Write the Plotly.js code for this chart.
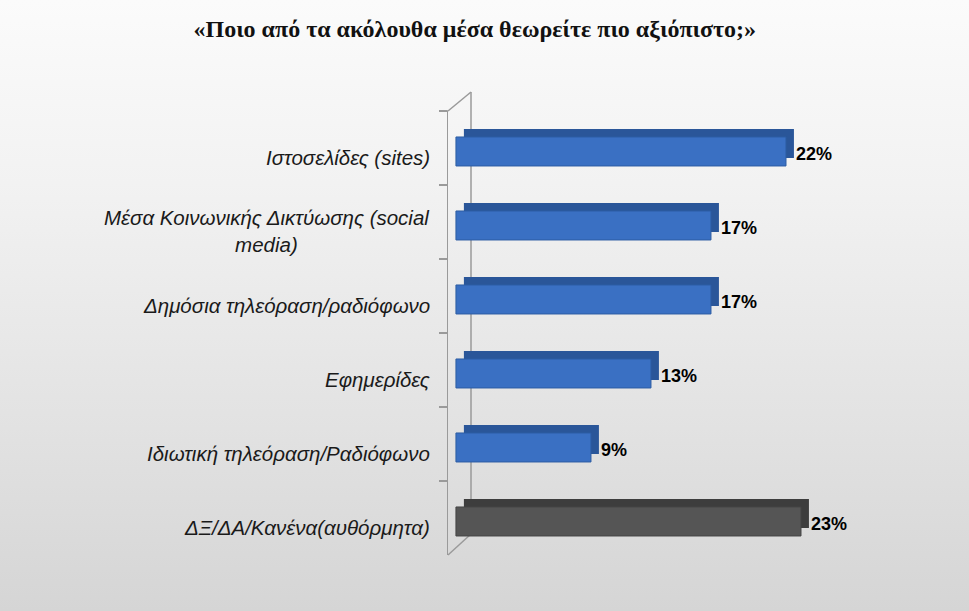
<!DOCTYPE html>
<html>
<head>
<meta charset="utf-8">
<script src="https://cdn.plot.ly/plotly-3.0.1.min.js"></script>
<style>
html,body{margin:0;padding:0;}
body{width:969px;height:611px;background:linear-gradient(to bottom,#fbfbfb 0%,#f2f2f2 30%,#e2e2e2 70%,#d5d5d5 100%);}
#chart{width:969px;height:611px;}
</style>
</head>
<body>
<div id="chart"></div>
<script>
// Data (top to bottom as shown)
var categories = [
  "Ιστοσελίδες (sites)",
  "Μέσα Κοινωνικής Δικτύωσης (social<br>media)",
  "Δημόσια τηλεόραση/ραδιόφωνο",
  "Εφημερίδες",
  "Ιδιωτική τηλεόραση/Ραδιόφωνο",
  "ΔΞ/ΔΑ/Κανένα(αυθόρμητα)"
];
var values = [22, 17, 17, 13, 9, 23];
var valueLabels = ["22%", "17%", "17%", "13%", "9%", "23%"];
var barColors = ["#3a70c3", "#3a70c3", "#3a70c3", "#3a70c3", "#3a70c3", "#555555"];
var depthColors = ["#2a5699", "#2a5699", "#2a5699", "#2a5699", "#2a5699", "#3d3d3d"];
var lineColors = ["#2d5da3", "#2d5da3", "#2d5da3", "#2d5da3", "#2d5da3", "#444444"];

var W = 969, H = 611;
var M = {l: 448, r: 63, t: 111, b: 56};
function px(x){ return (x - M.l) / (W - M.l - M.r); }
function py(y){ return 1 - (y - M.t) / (H - M.t - M.b); }

// 3D depth face (drawn behind, shifted up/right by axis styling)
var depth = {
  type: "bar", orientation: "h",
  y: categories, x: values,
  xaxis: "x",
  marker: {color: depthColors, line: {width: 0}},
  width: 0.392, offset: -0.257,
  hoverinfo: "none", cliponaxis: false
};
var front = {
  type: "bar", orientation: "h",
  y: categories, x: values,
  xaxis: "x2",
  marker: {color: barColors, line: {color: lineColors, width: 1}},
  width: 0.392, offset: -0.149,
  hoverinfo: "none", cliponaxis: false
};

var annotations = [];
categories.forEach(function(c, i){
  annotations.push({
    xref: "paper", yref: "y", x: px(432), y: c,
    text: c, showarrow: false, xanchor: "right", yanchor: "middle",
    align: "center", yshift: -9,
    font: {family: "Liberation Sans, Arial, sans-serif", size: 20.5, color: "#1a1a1a", style: "italic"}
  });
  annotations.push({
    xref: "x2", yref: "y", x: values[i], y: c,
    text: valueLabels[i], showarrow: false, xanchor: "left", yanchor: "middle",
    xshift: 8, yshift: -6,
    font: {family: "Liberation Sans, Arial, sans-serif", size: 18, color: "#000000", weight: "bold"}
  });
});

var wallColor = "#9a9a9a";
var shapes = [
  {type: "line", xref: "paper", yref: "paper", x0: px(471), x1: px(471), y0: py(92), y1: py(534), line: {color: wallColor, width: 1.5}, layer: "below"},
  {type: "line", xref: "paper", yref: "paper", x0: px(448), x1: px(471), y0: py(111), y1: py(92), line: {color: wallColor, width: 1.5}, layer: "below"},
  {type: "line", xref: "paper", yref: "paper", x0: px(448), x1: px(471), y0: py(555), y1: py(534), line: {color: wallColor, width: 1.5}, layer: "below"},
  {type: "line", xref: "paper", yref: "paper", x0: px(440), x1: px(448), y0: py(111), y1: py(111), line: {color: wallColor, width: 1.5}, layer: "below"}
];

var layout = {
  width: W, height: H,
  margin: M,
  paper_bgcolor: "rgba(0,0,0,0)",
  plot_bgcolor: "rgba(0,0,0,0)",
  showlegend: false,
  barmode: "overlay",
  title: {
    text: "«Ποιο από τα ακόλουθα μέσα θεωρείτε πιο αξιόπιστο;»",
    x: 0.49, xanchor: "center", y: 0.953, yanchor: "middle",
    font: {family: "Liberation Serif, Times New Roman, serif", size: 24, color: "#111111", weight: "bold"}
  },
  xaxis: {
    range: [-1.06, 29.47], showgrid: false, zeroline: false, showline: false,
    showticklabels: false, ticks: "", fixedrange: true
  },
  xaxis2: {
    overlaying: "x", range: [-0.53, 30], showgrid: false, zeroline: false, showline: false,
    showticklabels: false, ticks: "", fixedrange: true
  },
  yaxis: {
    type: "category", autorange: "reversed", showgrid: false, zeroline: false,
    showline: true, linecolor: wallColor, linewidth: 1.5,
    ticks: "outside", ticklen: 8, tickcolor: wallColor, tickwidth: 1.5,
    tickson: "boundaries", showticklabels: false, fixedrange: true
  },
  annotations: annotations,
  shapes: shapes
};

Plotly.newPlot("chart", [depth, front], layout, {displayModeBar: false, staticPlot: true});
</script>
</body>
</html>
